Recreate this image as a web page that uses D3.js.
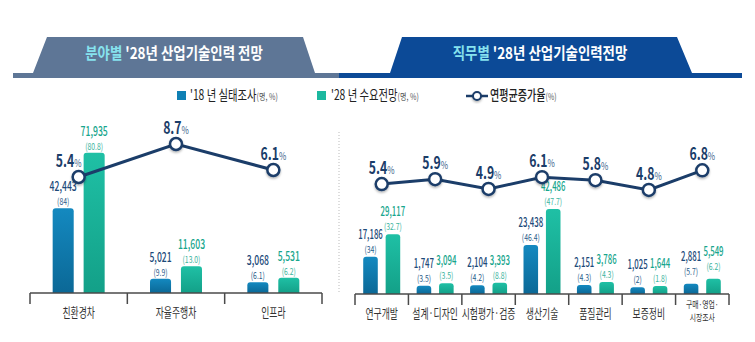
<!DOCTYPE html>
<html>
<head>
<meta charset="utf-8">
<script src="https://cdn.jsdelivr.net/npm/d3@7"></script>
<style>
  html, body { margin: 0; padding: 0; background: #fff; }
  svg { display: block; }
</style>
</head>
<body>
<script>
const width = 755;
const height = 342;
const FONT = "'Noto Sans CJK KR', 'Noto Sans', sans-serif";

// 분야별
const fieldCats = ['친환경차', '자율주행차', '인프라'];
const field2018 = [42443, 5021, 3068];
const field2018Pct = ['84', '9.9', '6.1'];
const field2028 = [71935, 11603, 5531];
const field2028Pct = ['80.8', '13.0', '6.2'];
const fieldRate = [5.4, 8.7, 6.1];

// 직무별
const jobCats = ['연구개발', '설계·디자인', '시험평가·검증', '생산기술', '품질관리', '보증정비', '구매·영업·|시장조사'];
const job2018 = [17186, 1747, 2104, 23438, 2151, 1025, 2881];
const job2018Pct = ['34', '3.5', '4.2', '46.4', '4.3', '2', '5.7'];
const job2028 = [29117, 3094, 3393, 42486, 3786, 1644, 5549];
const job2028Pct = ['32.7', '3.5', '8.8', '47.7', '4.3', '1.8', '6.2'];
const jobRate = [5.4, 5.9, 4.9, 6.1, 5.8, 4.8, 6.8];

const years = ['2018', '2028'];

const C = {
  navy: '#1b3d69',
  blueLbl: '#1d4b7a',
  tealLbl: '#18a68d',
  grayHead: '#5e7696',
  blueHead: '#0c4a97',
  cyan: '#86e2ee',
  axis: '#4a4a4a'
};

const svg = d3.select('body').append('svg')
  .attr('width', width).attr('height', height);

const defs = svg.append('defs');
const g1 = defs.append('linearGradient').attr('id', 'gBlue').attr('x1', 0).attr('x2', 0).attr('y1', 0).attr('y2', 1);
g1.append('stop').attr('offset', '0%').attr('stop-color', '#1489c0');
g1.append('stop').attr('offset', '100%').attr('stop-color', '#0b6896');
const g2 = defs.append('linearGradient').attr('id', 'gTeal').attr('x1', 0).attr('x2', 0).attr('y1', 0).attr('y2', 1);
g2.append('stop').attr('offset', '0%').attr('stop-color', '#1fc0a5');
g2.append('stop').attr('offset', '100%').attr('stop-color', '#13a088');
const sh = defs.append('filter').attr('id', 'shadow').attr('x', '-50%').attr('y', '-50%').attr('width', '200%').attr('height', '200%');
sh.append('feDropShadow').attr('dx', 0).attr('dy', 1.5).attr('stdDeviation', 1.2).attr('flood-color', '#000').attr('flood-opacity', 0.3);

// 글자를 가로로 좁혀서 찍는 함수
function txt(g, x, y, s, o) {
  return g.append('text')
    .attr('transform', `translate(${x},${y}) scale(${o.sx || 0.7},1)`)
    .attr('text-anchor', o.anchor || 'middle')
    .attr('font-family', FONT)
    .attr('font-size', o.size)
    .attr('font-weight', o.weight || 400)
    .attr('fill', o.fill || '#333')
    .text(s);
}

// 헤더 (사다리꼴 + 밑줄)
svg.append('path')
  .attr('d', 'M13,73 L33,73 L47,37 L303,37 L315,73 L339,73 L339,78 L13,78 Z')
  .attr('fill', C.grayHead);
svg.append('path')
  .attr('d', 'M339,73 L390,73 L402,37 L677,37 L692,73 L742,73 L742,78 L339,78 Z')
  .attr('fill', C.blueHead);

function title(x, a, b) {
  const t = txt(svg, x, 59, '', { size: 16, weight: 700, sx: 0.84, fill: '#fff' });
  t.append('tspan').attr('fill', C.cyan).text(a);
  t.append('tspan').attr('fill', '#fff').text(b);
}
title(174, '분야별', " '28년 산업기술인력 전망");
title(540, '직무별', " '28년 산업기술인력전망");

// 범례
const lg = svg.append('g');
lg.append('rect').attr('x', 177).attr('y', 91).attr('width', 9).attr('height', 9).attr('fill', '#0f80b4');
let t = txt(lg, 190, 100, "'18 년 실태조사", { size: 14, anchor: 'start', sx: 0.74, fill: '#222' });
t.append('tspan').attr('font-size', 9.5).attr('fill', '#555').text('(명, %)');
lg.append('rect').attr('x', 317).attr('y', 91).attr('width', 9).attr('height', 9).attr('fill', '#1cb89f');
t = txt(lg, 331, 100, "'28 년 수요전망", { size: 14, anchor: 'start', sx: 0.74, fill: '#222' });
t.append('tspan').attr('font-size', 9.5).attr('fill', '#555').text('(명, %)');
lg.append('line').attr('x1', 466).attr('x2', 488).attr('y1', 96).attr('y2', 96)
  .attr('stroke', C.navy).attr('stroke-width', 2.5);
lg.append('circle').attr('cx', 477).attr('cy', 96).attr('r', 4)
  .attr('fill', '#fff').attr('stroke', C.navy).attr('stroke-width', 2).attr('filter', 'url(#shadow)');
t = txt(lg, 490, 100, '연평균증가율', { size: 14, anchor: 'start', sx: 0.72, fill: '#222', weight: 500 });
t.append('tspan').attr('font-size', 9.5).attr('font-weight', 400).attr('fill', '#555').text('(%)');

// 구분 점선
svg.append('line').attr('x1', 339).attr('x2', 339).attr('y1', 132).attr('y2', 293)
  .attr('stroke', '#bbb').attr('stroke-width', 1).attr('stroke-dasharray', '1,2');

function panel(p) {
  const g = svg.append('g');
  const x = d3.scaleBand().domain(p.cats).range(p.xr);
  const bw = x.bandwidth();
  const xi = d3.scaleBand().domain(years)
    .range([bw / 2 - p.half, bw / 2 + p.half]).paddingInner(p.pad);
  const y = d3.scaleLinear().domain([-2600, 80000]).range([p.base, p.base - 155.5]);
  const yr = d3.scaleLinear().domain([0, 10]).range(p.rateR);

  // 막대
  const rows = p.cats.map((c, i) => ({
    c, i,
    vals: [
      { k: '2018', v: p.v18[i], pct: p.p18[i] },
      { k: '2028', v: p.v28[i], pct: p.p28[i] }
    ]
  }));
  const grp = g.selectAll('g.grp').data(rows).join('g')
    .attr('transform', d => `translate(${x(d.c)},0)`);
  const r = 3;
  grp.selectAll('path').data(d => d.vals).join('path')
    .attr('fill', d => d.k === '2018' ? 'url(#gBlue)' : 'url(#gTeal)')
    .attr('d', d => {
      const x0 = xi(d.k), w = xi.bandwidth(), y0 = y(d.v), y1 = p.base;
      return `M${x0},${y1} L${x0},${y0 + r} Q${x0},${y0} ${x0 + r},${y0} L${x0 + w - r},${y0} Q${x0 + w},${y0} ${x0 + w},${y0 + r} L${x0 + w},${y1} Z`;
    });
  grp.each(function (d) {
    const s = d3.select(this);
    d.vals.forEach(v => {
      const cx = xi(v.k) + xi.bandwidth() / 2;
      const col = v.k === '2018' ? C.blueLbl : C.tealLbl;
      const lift = (p.lift && p.lift[d.i]) || 0;
      txt(s, cx, y(v.v) - p.valOff - lift, d3.format(',')(v.v), { size: 13.5, sx: p.valSx, fill: col, weight: 500 });
      txt(s, cx, y(v.v) - p.pctOff - lift, `(${v.pct})`, { size: 9.5, sx: 0.72, fill: v.k === '2018' ? '#2a5c8a' : '#3bb49e' });
    });
  });

  // 축
  g.append('line').attr('x1', p.xr[0]).attr('x2', p.xr[1]).attr('y1', p.base).attr('y2', p.base)
    .attr('stroke', C.axis).attr('stroke-width', 1.5);
  const edges = p.cats.map(c => x(c)).concat([p.xr[1]]);
  g.selectAll('line.tk').data(edges).join('line').attr('class', 'tk')
    .attr('x1', d => d).attr('x2', d => d).attr('y1', p.base).attr('y2', p.base + 11)
    .attr('stroke', C.axis).attr('stroke-width', 1.5);
  p.cats.forEach(c => {
    const lines = c.split('|');
    const cx = x(c) + bw / 2;
    if (lines.length === 1) {
      txt(g, cx, p.base + 24, c, { size: p.catSize, sx: 0.68, fill: '#333' });
    } else {
      lines.forEach((l, j) => txt(g, cx, p.base + 14 + j * 12.5, l, { size: 9.5, sx: 0.72, fill: '#333' }));
    }
  });

  // 연평균증가율 선
  const pts = p.cats.map((c, i) => ({ x: x(c) + bw / 2, y: yr(p.rate[i]), v: p.rate[i], i }));
  g.append('path').datum(pts)
    .attr('fill', 'none').attr('stroke', C.navy).attr('stroke-width', 3)
    .attr('d', d3.line().x(d => d.x).y(d => d.y));
  g.selectAll('circle').data(pts).join('circle')
    .attr('cx', d => d.x).attr('cy', d => d.y).attr('r', 6)
    .attr('fill', '#fff').attr('stroke', C.navy).attr('stroke-width', 2.5)
    .attr('filter', 'url(#shadow)');
  pts.forEach(d => {
    const dx = d.i === 0 ? p.firstDx : 0;
    const tt = txt(g, d.x + dx, d.y - 10, '', { size: 17, sx: 0.72, fill: C.navy, weight: 700 });
    tt.append('tspan').text(d.v.toFixed(1));
    tt.append('tspan').attr('font-size', 11).attr('font-weight', 400).attr('fill', '#3d5f8a').text('%');
  });
}

panel({
  cats: fieldCats, v18: field2018, p18: field2018Pct, v28: field2028, p28: field2028Pct, rate: fieldRate,
  xr: [30, 322], base: 293, half: 26, pad: 0.32, rateR: [231, 131],
  valOff: 17, pctOff: 3, catSize: 13, firstDx: -10, valSx: 0.64
});
panel({
  cats: jobCats, v18: job2018, p18: job2018Pct, v28: job2028, p28: job2028Pct, rate: jobRate,
  xr: [355, 729], base: 294, half: 18.5, pad: 0.35, rateR: [237, 139],
  valOff: 18, pctOff: 4, catSize: 13, firstDx: 0, valSx: 0.58, lift: [0, 0, 0, 0, 0, 0, 5]
});
</script>
</body>
</html>
